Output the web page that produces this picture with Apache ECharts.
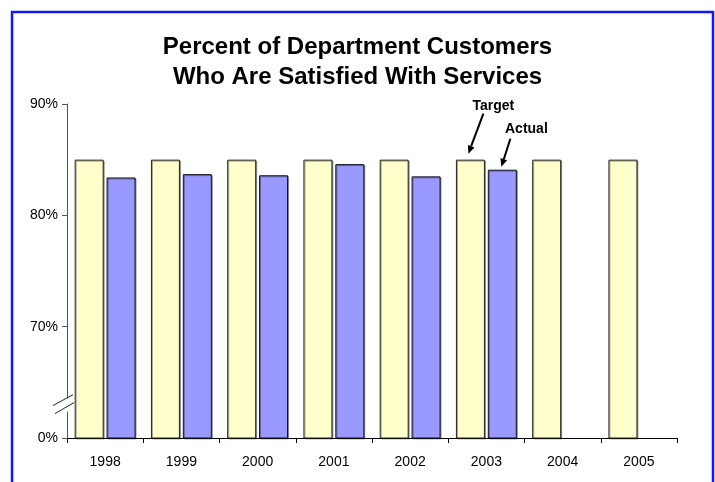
<!DOCTYPE html>
<html>
<head>
<meta charset="utf-8">
<script src="https://cdn.jsdelivr.net/npm/echarts@6/dist/echarts.min.js"></script>
<style>
  html, body { margin: 0; padding: 0; background: #fff; }
  #chart { width: 715px; height: 482px; }
</style>
</head>
<body>
<div id="chart"></div>
<script>
// Survey years shown on the category axis
const years = ['1998', '1999', '2000', '2001', '2002', '2003', '2004', '2005'];
// Satisfaction target (%) for each year
const targetPct = [85, 85, 85, 85, 85, 85, 85, 85];
// Measured satisfaction (%); no results yet for 2004 and 2005
const actualPct = [83.4, 83.7, 83.6, 84.6, 83.5, 84.1, null, null];
// Value axis: visible band 60–90, with the bottom tick standing in for 0% (broken axis)
const axisMin = 60;
const axisMax = 90;
const axisStep = 10;
const breakValue = 63;
const annotateYear = '2003';

const FONT = 'Liberation Sans, Arial, sans-serif';
const chart = echarts.init(document.getElementById('chart'), null, { renderer: 'canvas' });

const barShadow = { shadowColor: 'rgba(0,0,0,0.35)', shadowOffsetX: 1, shadowOffsetY: 1, shadowBlur: 0 };

chart.setOption({
  animation: false,
  backgroundColor: '#ffffff',
  title: {
    text: 'Percent of Department Customers\nWho Are Satisfied With Services',
    left: 'center',
    top: 27,
    textStyle: { fontFamily: FONT, fontWeight: 'bold', fontSize: 24, color: '#000', lineHeight: 30 }
  },
  grid: { left: 67, right: 38, top: 104, bottom: 44 },
  xAxis: {
    type: 'category',
    data: years,
    axisLine: { lineStyle: { color: '#000', width: 1 } },
    axisTick: { show: true, length: 5, lineStyle: { color: '#000' } },
    axisLabel: { color: '#000', fontFamily: FONT, fontSize: 14, margin: 17 }
  },
  yAxis: {
    type: 'value',
    min: axisMin,
    max: axisMax,
    interval: axisStep,
    axisLine: { show: true, lineStyle: { color: '#555', width: 1 } },
    axisTick: { show: true, length: 5, lineStyle: { color: '#555' } },
    splitLine: { show: false },
    axisLabel: {
      color: '#000', fontFamily: FONT, fontSize: 14, margin: 9,
      formatter: v => (v === axisMin ? '0%' : v + '%')
    }
  },
  series: [
    {
      name: 'Target',
      type: 'bar',
      data: targetPct,
      barWidth: 29,
      barGap: '10%',
      itemStyle: Object.assign({ color: '#FFFFCC', borderColor: '#222', borderWidth: 1 }, barShadow)
    },
    {
      name: 'Actual',
      type: 'bar',
      data: actualPct,
      barWidth: 29,
      itemStyle: Object.assign({ color: '#9999FF', borderColor: '#111', borderWidth: 1 }, barShadow)
    }
  ]
});

// Decorations placed from the axis scales: frame, axis break, callout arrows
function arrow(x1, y1, x2, y2) {
  const ang = Math.atan2(y2 - y1, x2 - x1);
  const len = 8, half = 3.5;
  const bx = x2 - len * Math.cos(ang), by = y2 - len * Math.sin(ang);
  const px = -Math.sin(ang) * half, py = Math.cos(ang) * half;
  return [
    { type: 'line', shape: { x1: x1, y1: y1, x2: bx, y2: by }, style: { stroke: '#000', lineWidth: 2 } },
    { type: 'polygon', shape: { points: [[x2, y2], [bx + px, by + py], [bx - px, by - py]] }, style: { fill: '#000' } }
  ];
}

const idx = years.indexOf(annotateYear);
const cx = chart.convertToPixel({ xAxisIndex: 0 }, annotateYear);
const axisX = chart.convertToPixel({ xAxisIndex: 0 }, years[0]) -
  (chart.convertToPixel({ xAxisIndex: 0 }, years[1]) - chart.convertToPixel({ xAxisIndex: 0 }, years[0])) / 2;
const tTop = chart.convertToPixel({ yAxisIndex: 0 }, targetPct[idx]);
const aTop = chart.convertToPixel({ yAxisIndex: 0 }, actualPct[idx]);
const yb = chart.convertToPixel({ yAxisIndex: 0 }, breakValue);

const labelStyle = { fontFamily: FONT, fontWeight: 'bold', fontSize: 14, fill: '#000', align: 'center', verticalAlign: 'middle' };

const elements = [
  // outer frame
  { type: 'rect', shape: { x: 12, y: 12, width: 701, height: 490 }, style: { fill: 'none', stroke: '#1515ff', lineWidth: 2.5 }, silent: true },
  // gap in the value axis + break slashes
  { type: 'rect', shape: { x: axisX - 2, y: yb - 6, width: 4, height: 13 }, style: { fill: '#fff' }, z: 10 },
  { type: 'line', shape: { x1: axisX - 14, y1: yb + 1, x2: axisX + 6, y2: yb - 10 }, style: { stroke: '#222', lineWidth: 1 }, z: 11 },
  { type: 'line', shape: { x1: axisX - 12, y1: yb + 9, x2: axisX + 7, y2: yb - 2 }, style: { stroke: '#222', lineWidth: 1 }, z: 11 },
  // callouts
  { type: 'text', x: cx + 7, y: tTop - 54, style: Object.assign({ text: 'Target' }, labelStyle), z: 12 },
  { type: 'text', x: cx + 40, y: aTop - 41, style: Object.assign({ text: 'Actual' }, labelStyle), z: 12 }
].concat(
  arrow(cx - 3, tTop - 46, cx - 18, tTop - 6),
  arrow(cx + 24, aTop - 31, cx + 15, aTop - 3)
);

chart.setOption({ graphic: { elements: elements } });
</script>
</body>
</html>
